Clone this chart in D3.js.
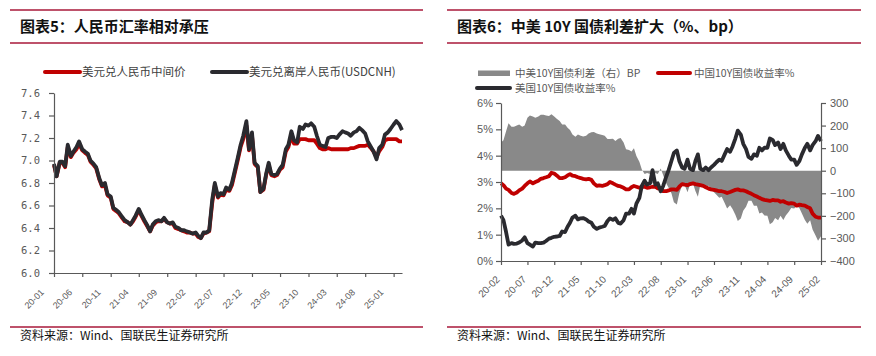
<!DOCTYPE html>
<html><head><meta charset="utf-8">
<script src="https://cdn.jsdelivr.net/npm/d3@7"></script>
<style>
body{margin:0;background:#fff;}
svg{display:block;}
</style></head><body>
<svg id="c" width="876" height="356"></svg>
<script>
// ---------- Left chart data (two readings per month: 1st and 15th) ----------
const leftMonths = ["2020-01","2020-02","2020-03","2020-04","2020-05","2020-06","2020-07","2020-08","2020-09","2020-10","2020-11","2020-12",
"2021-01","2021-02","2021-03","2021-04","2021-05","2021-06","2021-07","2021-08","2021-09","2021-10","2021-11","2021-12",
"2022-01","2022-02","2022-03","2022-04","2022-05","2022-06","2022-07","2022-08","2022-09","2022-10","2022-11","2022-12",
"2023-01","2023-02","2023-03","2023-04","2023-05","2023-06","2023-07","2023-08","2023-09","2023-10","2023-11","2023-12",
"2024-01","2024-02","2024-03","2024-04","2024-05","2024-06","2024-07","2024-08","2024-09","2024-10","2024-11","2024-12",
"2025-01","2025-02"];
const cnhRate = [6.97,6.86, 6.99,6.99, 6.95,7.14, 7.04,7.08, 7.12,7.17, 7.10,7.08, 7.06,7.00, 6.97,6.94, 6.84,6.78, 6.80,6.70, 6.68,6.58, 6.56,6.54,
6.50,6.47, 6.45,6.43, 6.47,6.51, 6.57,6.52, 6.47,6.43, 6.37,6.43, 6.46,6.47, 6.46,6.49, 6.45,6.44, 6.45,6.41, 6.40,6.38, 6.38,6.37,
6.36,6.35, 6.36,6.33, 6.31,6.36, 6.36,6.38, 6.65,6.80, 6.68,6.71, 6.70,6.76, 6.74,6.80, 6.92,7.02, 7.14,7.22, 7.35,7.10, 7.25,6.98,
6.95,6.72, 6.75,6.88, 6.98,6.88, 6.87,6.88, 6.93,6.96, 7.10,7.14, 7.26,7.18, 7.16,7.30, 7.28,7.32, 7.31,7.33, 7.30,7.22, 7.14,7.13,
7.12,7.20, 7.21,7.21, 7.20,7.23, 7.26,7.25, 7.24,7.22, 7.25,7.26, 7.29,7.27, 7.24,7.17, 7.12,7.08, 7.01,7.11, 7.14,7.23, 7.25,7.28,
7.32,7.35, 7.32,7.27];
const cnyMid = [6.96,6.86, 6.98,6.98, 6.94,7.12, 7.03,7.07, 7.10,7.15, 7.09,7.07, 7.05,6.99, 6.96,6.93, 6.83,6.77, 6.78,6.69, 6.67,6.57, 6.55,6.53,
6.49,6.46, 6.45,6.43, 6.46,6.50, 6.56,6.51, 6.46,6.42, 6.37,6.42, 6.45,6.46, 6.46,6.48, 6.45,6.44, 6.44,6.40, 6.39,6.38, 6.37,6.36,
6.36,6.35, 6.35,6.32, 6.31,6.35, 6.36,6.37, 6.62,6.78, 6.67,6.70, 6.69,6.74, 6.73,6.78, 6.90,7.00, 7.12,7.19, 7.31,7.09, 7.22,6.97,
6.94,6.72, 6.74,6.87, 6.96,6.87, 6.86,6.87, 6.92,6.94, 7.08,7.12, 7.22,7.15, 7.15,7.19, 7.19,7.19, 7.18,7.18, 7.18,7.15, 7.11,7.10,
7.10,7.11, 7.10,7.10, 7.10,7.10, 7.10,7.10, 7.10,7.11, 7.11,7.12, 7.13,7.13, 7.13,7.14, 7.11,7.08, 7.03,7.08, 7.12,7.18, 7.19,7.19,
7.19,7.19, 7.17,7.17];
const leftXTicks = ["2020-01","2020-06","2020-11","2021-04","2021-09","2022-02","2022-07","2022-12","2023-05","2023-10","2024-03","2024-08","2025-01"];
const leftYTicks = [6.0,6.2,6.4,6.6,6.8,7.0,7.2,7.4,7.6];

// ---------- Right chart data (two readings per month: 1st and 15th, last = 2025-02-01) ----------
const rightMonths = ["2020-02","2020-03","2020-04","2020-05","2020-06","2020-07","2020-08","2020-09","2020-10","2020-11","2020-12",
"2021-01","2021-02","2021-03","2021-04","2021-05","2021-06","2021-07","2021-08","2021-09","2021-10","2021-11","2021-12",
"2022-01","2022-02","2022-03","2022-04","2022-05","2022-06","2022-07","2022-08","2022-09","2022-10","2022-11","2022-12",
"2023-01","2023-02","2023-03","2023-04","2023-05","2023-06","2023-07","2023-08","2023-09","2023-10","2023-11","2023-12",
"2024-01","2024-02","2024-03","2024-04","2024-05","2024-06","2024-07","2024-08","2024-09","2024-10","2024-11","2024-12",
"2025-01"];
const rightLastDate = "2025-02-01";
const us10y = [1.72,1.55, 1.10,0.62, 0.68,0.65, 0.66,0.70, 0.78,0.90, 0.68,0.62, 0.55,0.70, 0.68,0.68, 0.70,0.76, 0.85,0.88, 0.92,0.93,
0.95,1.12, 1.10,1.30, 1.45,1.65, 1.72,1.58, 1.62,1.63, 1.58,1.50, 1.45,1.30, 1.22,1.27, 1.30,1.33, 1.52,1.62, 1.56,1.62, 1.45,1.42,
1.55,1.80, 1.80,1.98, 1.80,2.18, 2.40,2.85, 3.05,2.90, 2.95,3.45, 2.90,2.95, 2.65,2.85, 3.20,3.45, 3.80,4.10, 4.20,3.80, 3.55,3.50,
3.85,3.50, 3.45,3.80, 4.05,3.50, 3.45,3.55, 3.45,3.55, 3.65,3.75, 3.85,3.80, 4.05,4.25, 4.15,4.35, 4.65,4.95, 4.80,4.45, 4.25,3.95,
3.88,4.05, 4.00,4.30, 4.20,4.30, 4.30,4.65, 4.60,4.40, 4.50,4.25, 4.45,4.20, 4.00,3.85, 3.85,3.65, 3.80,4.05, 4.30,4.45, 4.20,4.40,
4.55,4.75, 4.55];
const cn10y = [2.95,2.88, 2.75,2.70, 2.58,2.55, 2.60,2.68, 2.75,2.85, 2.95,3.02, 2.95,3.00, 3.05,3.12, 3.15,3.18, 3.22,3.35, 3.32,3.25,
3.15,3.15, 3.18,3.25, 3.30,3.24, 3.22,3.18, 3.15,3.12, 3.10,3.12, 3.08,2.95, 2.85,2.87, 2.85,2.88, 2.92,3.00, 2.95,2.90, 2.85,2.83,
2.78,2.72, 2.72,2.80, 2.85,2.82, 2.78,2.82, 2.82,2.78, 2.80,2.82, 2.82,2.76, 2.75,2.65, 2.65,2.68, 2.72,2.72, 2.70,2.82, 2.92,2.90,
2.88,2.92, 2.95,2.92, 2.90,2.88, 2.85,2.80, 2.75,2.72, 2.70,2.68, 2.65,2.65, 2.62,2.58, 2.62,2.66, 2.70,2.72, 2.68,2.68, 2.65,2.60,
2.55,2.50, 2.45,2.40, 2.35,2.32, 2.30,2.28, 2.32,2.30, 2.30,2.25, 2.27,2.22, 2.18,2.20, 2.18,2.10, 2.14,2.12, 2.10,2.05, 2.00,1.80,
1.68,1.65, 1.65];
const spreadBp = [125,135, 175,210, 195,195, 200,205, 195,200, 235,245, 240,235, 240,248, 248,245, 242,250, 240,230,
220,205, 205,190, 180,160, 150,160, 155,152, 155,165, 170,172, 165,162, 158,155, 140,140, 142,132, 142,145,
125,95, 92,85, 100,65, 40,5, -15,-10, -15,-60, -10,-15, 10,-20, -55,-75, -100,-140, -150,-100, -65,-62,
-95,-60, -55,-90, -115,-62, -60,-72, -67,-83, -95,-107, -120,-115, -143,-167, -153,-170, -195,-223, -212,-177, -160,-133,
-133,-155, -155,-190, -185,-198, -200,-237, -228,-210, -220,-200, -218,-198, -182,-165, -167,-155, -166,-190, -218,-235, -220,-260,
-287,-310, -290];
const rightXTicks = ["2020-02","2020-07","2020-12","2021-05","2021-10","2022-03","2022-08","2023-01","2023-06","2023-11","2024-04","2024-09","2025-02"];
const rightYTicks = [0,1,2,3,4,5,6];
const rightY2Ticks = [-400,-300,-200,-100,0,100,200,300];

// ---------- Texts ----------
const title5 = "图表5：人民币汇率相对承压";
const title6 = "图表6：中美 10Y 国债利差扩大（%、bp）";
const source = "资料来源：Wind、国联民生证券研究所";
const leftSeriesNames = ["美元兑人民币中间价","美元兑离岸人民币(USDCNH)"];
const rightSeriesNames = ["中美10Y国债利差（右）BP","中国10Y国债收益率%","美国10Y国债收益率%"];

// ---------- Drawing ----------
const parse = d3.timeParse("%Y-%m-%d");
const parseM = d3.timeParse("%Y-%m");
const svg = d3.select("#c");
const RED = "#c00000", BLACK = "#2a2a2f", GRAY = "#898989", FRAME = "#a8193a", AX = "#595959";
const cjk = "'Noto Sans CJK SC', sans-serif";
const sans = "'Liberation Sans', Arial, sans-serif";

// frames
[[10,423],[447,861]].forEach(([a,b])=>{
  [10,43,327].forEach(y=>svg.append("line").attr("x1",a).attr("x2",b).attr("y1",y).attr("y2",y)
    .attr("stroke",FRAME).attr("stroke-width",1.3));
});
svg.append("text").attr("x",20).attr("y",32).text(title5)
  .attr("font-family",cjk).attr("font-weight",700).attr("font-size",15).attr("fill","#111");
svg.append("text").attr("x",457).attr("y",32).text(title6)
  .attr("font-family",cjk).attr("font-weight",700).attr("font-size",15).attr("fill","#111");
[20,457].forEach(x=>svg.append("text").attr("x",x).attr("y",340).text(source)
  .attr("font-family",cjk).attr("font-size",12).attr("fill","#111"));

// ===== Left chart =====
const leftDates = leftMonths.flatMap(m=>[parse(m+"-01"), parse(m+"-15")]);
const xL = d3.scaleTime().domain([parse("2020-01-01"), parse("2025-02-15")]).range([54,402]);
const yL = d3.scaleLinear().domain([6.0,7.6]).range([273,93]);

const gL = svg.append("g");
const lineL = (vals)=>d3.line().x((d,i)=>xL(leftDates[i])).y(d=>yL(d)).curve(d3.curveLinear)(vals);
gL.append("path").attr("d",lineL(cnyMid)).attr("fill","none").attr("stroke",RED).attr("stroke-width",3.8).attr("stroke-linejoin","round");
gL.append("path").attr("d",lineL(cnhRate)).attr("fill","none").attr("stroke",BLACK).attr("stroke-width",3.8).attr("stroke-linejoin","round");

const axL = gL.append("g").attr("transform","translate(54,0)")
  .call(d3.axisLeft(yL).tickValues(leftYTicks).tickFormat(d3.format(".1f")).tickSize(5).tickSizeOuter(0).tickPadding(9));
axL.selectAll("text").attr("font-family","'DejaVu Sans Mono', monospace").attr("font-size",10.5).attr("fill",AX);
const axLx = gL.append("g").attr("transform","translate(0,273)")
  .call(d3.axisBottom(xL).tickValues(leftXTicks.map(parseM)).tickFormat(d3.timeFormat("%y-%m")).tickSize(4).tickSizeOuter(0));
axLx.selectAll("text").attr("font-family",sans).attr("font-size",9).attr("fill",AX)
  .attr("text-anchor","end").attr("y",0).attr("dy",0).attr("transform","translate(-10,20) rotate(-45)");
[axL,axLx].forEach(a=>{a.selectAll("path,line").attr("stroke",AX).attr("stroke-width",1.2);});

// left legend
[[45,RED,leftSeriesNames[0]],[212,BLACK,leftSeriesNames[1]]].forEach(([x,c,t])=>{
  gL.append("line").attr("x1",x).attr("x2",x+35).attr("y1",72).attr("y2",72).attr("stroke",c).attr("stroke-width",4).attr("stroke-linecap","round");
  gL.append("text").attr("x",x+37).attr("y",76).text(t).attr("font-family",cjk).attr("font-size",11.5).attr("fill","#404040");
});

// ===== Right chart =====
const rightDates = rightMonths.flatMap(m=>[parse(m+"-01"), parse(m+"-15")]).concat([parse(rightLastDate)]);
const xR = d3.scaleTime().domain([parse("2020-02-01"), parse("2025-02-01")]).range([501,821]);
const yR = d3.scaleLinear().domain([0,6]).range([261,103]);
const yR2 = d3.scaleLinear().domain([-400,300]).range([261,103]);
const gR = svg.append("g");

// spread area
gR.append("path")
  .attr("d", d3.area().x((d,i)=>xR(rightDates[i])).y0(yR2(0)).y1(d=>yR2(d))(spreadBp))
  .attr("fill",GRAY);

const lineR = (vals)=>d3.line().x((d,i)=>xR(rightDates[i])).y(d=>yR(d))(vals);
gR.append("path").attr("d",lineR(cn10y)).attr("fill","none").attr("stroke",RED).attr("stroke-width",3.8).attr("stroke-linejoin","round");
gR.append("path").attr("d",lineR(us10y)).attr("fill","none").attr("stroke",BLACK).attr("stroke-width",3.8).attr("stroke-linejoin","round");

const axR = gR.append("g").attr("transform","translate(501,0)")
  .call(d3.axisLeft(yR).tickValues(rightYTicks).tickFormat(d=>d+"%").tickSize(5).tickSizeOuter(0).tickPadding(3));
const axR2 = gR.append("g").attr("transform","translate(821,0)")
  .call(d3.axisRight(yR2).tickValues(rightY2Ticks).tickFormat(d=>d<0?"\u2212"+Math.abs(d):d).tickSize(5).tickSizeOuter(0).tickPadding(4));
const axRx = gR.append("g").attr("transform","translate(0,261)")
  .call(d3.axisBottom(xR).tickValues(rightXTicks.map(parseM)).tickFormat(d3.timeFormat("%y-%m")).tickSize(4).tickSizeOuter(0));
[axR,axR2].forEach(a=>a.selectAll("text").attr("font-family",sans).attr("font-size",11).attr("fill",AX));
axRx.selectAll("text").attr("font-family",sans).attr("font-size",10).attr("fill",AX)
  .attr("text-anchor","end").attr("y",0).attr("dy",0).attr("transform","translate(-1,19) rotate(-45)");
[axR,axR2,axRx].forEach(a=>{a.selectAll("path,line").attr("stroke",AX).attr("stroke-width",1.2);});

// right legend
gR.append("rect").attr("x",478).attr("y",70.5).attr("width",32).attr("height",5.5).attr("fill",GRAY);
gR.append("text").attr("x",515).attr("y",76.5).text(rightSeriesNames[0]).attr("font-family",cjk).attr("font-size",10.5).attr("fill",AX);
gR.append("line").attr("x1",658).attr("x2",690).attr("y1",73).attr("y2",73).attr("stroke",RED).attr("stroke-width",4).attr("stroke-linecap","round");
gR.append("text").attr("x",694).attr("y",76.5).text(rightSeriesNames[1]).attr("font-family",cjk).attr("font-size",10.5).attr("fill",AX);
gR.append("line").attr("x1",477).attr("x2",510).attr("y1",88).attr("y2",88).attr("stroke",BLACK).attr("stroke-width",4).attr("stroke-linecap","round");
gR.append("text").attr("x",515).attr("y",92).text(rightSeriesNames[2]).attr("font-family",cjk).attr("font-size",10.5).attr("fill",AX);
</script>
</body></html>
